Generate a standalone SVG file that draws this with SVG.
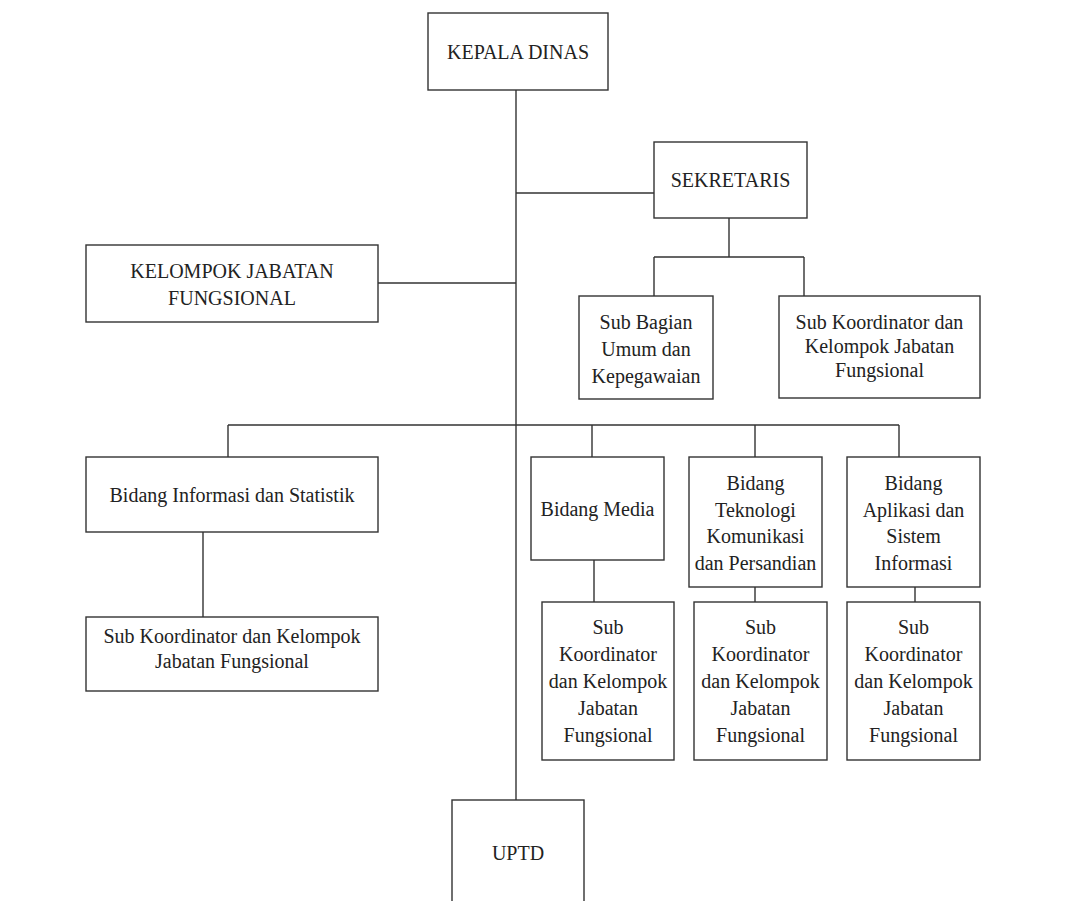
<svg xmlns="http://www.w3.org/2000/svg" width="1086" height="901" viewBox="0 0 1086 901">
<style>
.box{fill:#ffffff;stroke:#333333;stroke-width:1.4}
.ln{fill:none;stroke:#333333;stroke-width:1.4}
text{font-family:"Liberation Serif","Times New Roman",serif;font-size:20px;fill:#222222;text-anchor:middle}
</style>
<rect x="0" y="0" width="1086" height="901" fill="#ffffff"/>
<g id="connectors">
<path class="ln" d="M516 90 V800"/>
<path class="ln" d="M516 193 H654"/>
<path class="ln" d="M378 283 H516"/>
<path class="ln" d="M729 218 V257 M654 257 H804 M654 257 V296 M804 257 V296"/>
<path class="ln" d="M228 425 H899 M228 425 V457 M592 425 V457 M755 425 V457 M899 425 V457"/>
<path class="ln" d="M203 532 V617"/>
<path class="ln" d="M594 560 V602 M755 587 V602 M915 587 V602"/>
</g>
<g id="kepala-dinas">
<rect class="box" x="428" y="13" width="180" height="77"/>
<text x="518" y="59">KEPALA DINAS</text>
</g>
<g id="sekretaris">
<rect class="box" x="654" y="142" width="153" height="76"/>
<text x="730.5" y="187">SEKRETARIS</text>
</g>
<g id="kelompok-jabatan-fungsional">
<rect class="box" x="86" y="245" width="292" height="77"/>
<text x="232" y="278">KELOMPOK JABATAN</text>
<text x="232" y="305">FUNGSIONAL</text>
</g>
<g id="sub-bagian-umum">
<rect class="box" x="579" y="296" width="134" height="103"/>
<text x="646" y="329">Sub Bagian</text>
<text x="646" y="356">Umum dan</text>
<text x="646" y="383">Kepegawaian</text>
</g>
<g id="sub-koordinator-sekretaris">
<rect class="box" x="779" y="296" width="201" height="102"/>
<text x="879.5" y="329">Sub Koordinator dan</text>
<text x="879.5" y="353">Kelompok Jabatan</text>
<text x="879.5" y="377">Fungsional</text>
</g>
<g id="bidang-informasi">
<rect class="box" x="86" y="457" width="292" height="75"/>
<text x="232" y="502">Bidang Informasi dan Statistik</text>
</g>
<g id="sub-koordinator-informasi">
<rect class="box" x="86" y="617" width="292" height="74"/>
<text x="232" y="643">Sub Koordinator dan Kelompok</text>
<text x="232" y="668">Jabatan Fungsional</text>
</g>
<g id="bidang-media">
<rect class="box" x="531" y="457" width="133" height="103"/>
<text x="597.5" y="516">Bidang Media</text>
</g>
<g id="bidang-teknologi">
<rect class="box" x="689" y="457" width="133" height="130"/>
<text x="755.5" y="490">Bidang</text>
<text x="755.5" y="517">Teknologi</text>
<text x="755.5" y="543">Komunikasi</text>
<text x="755.5" y="570">dan Persandian</text>
</g>
<g id="bidang-aplikasi">
<rect class="box" x="847" y="457" width="133" height="130"/>
<text x="913.5" y="490">Bidang</text>
<text x="913.5" y="517">Aplikasi dan</text>
<text x="913.5" y="543">Sistem</text>
<text x="913.5" y="570">Informasi</text>
</g>
<g id="sub-koordinator-media">
<rect class="box" x="542" y="602" width="132" height="158"/>
<text x="608" y="634">Sub</text>
<text x="608" y="661">Koordinator</text>
<text x="608" y="688">dan Kelompok</text>
<text x="608" y="715">Jabatan</text>
<text x="608" y="742">Fungsional</text>
</g>
<g id="sub-koordinator-teknologi">
<rect class="box" x="694" y="602" width="133" height="158"/>
<text x="760.5" y="634">Sub</text>
<text x="760.5" y="661">Koordinator</text>
<text x="760.5" y="688">dan Kelompok</text>
<text x="760.5" y="715">Jabatan</text>
<text x="760.5" y="742">Fungsional</text>
</g>
<g id="sub-koordinator-aplikasi">
<rect class="box" x="847" y="602" width="133" height="158"/>
<text x="913.5" y="634">Sub</text>
<text x="913.5" y="661">Koordinator</text>
<text x="913.5" y="688">dan Kelompok</text>
<text x="913.5" y="715">Jabatan</text>
<text x="913.5" y="742">Fungsional</text>
</g>
<g id="uptd">
<rect class="box" x="452" y="800" width="132" height="110"/>
<text x="518" y="860">UPTD</text>
</g>
</svg>
